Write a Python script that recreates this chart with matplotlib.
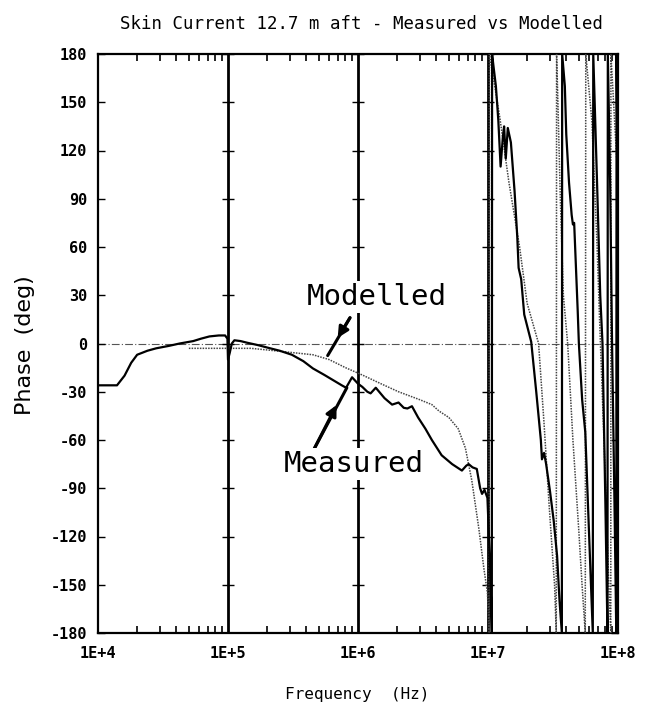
import matplotlib
matplotlib.use("Agg")
import matplotlib.pyplot as plt
import numpy as np

# ---------------- data ----------------
meas_freq = [1.0e4, 1.2e4, 1.4e4, 1.6e4, 1.8e4, 2.0e4, 2.4e4, 2.8e4, 3.5e4, 4.25e4,
             5.4e4, 6.2e4, 7.2e4, 8.5e4, 9.5e4, 9.9e4, 1.0e5, 1.03e5, 1.07e5, 1.12e5,
             1.25e5, 1.4e5, 1.7e5, 2.0e5, 2.5e5, 3.1e5, 3.8e5, 4.5e5, 5.5e5, 6.5e5,
             7.5e5, 8.1e5, 9.0e5, 1.0e6, 1.08e6, 1.18e6, 1.25e6, 1.37e6, 1.6e6, 1.83e6,
             2.05e6, 2.25e6, 2.4e6, 2.6e6, 2.9e6, 3.3e6, 3.7e6, 4.4e6, 5.3e6, 6.3e6,
             6.8e6, 7.1e6, 7.6e6, 8.2e6, 8.7e6, 9.0e6, 9.4e6, 9.9e6, 1.04e7, 1.07e7,
             1.075e7, 1.1e7, 1.15e7, 1.2e7, 1.25e7, 1.3e7, 1.33e7, 1.37e7, 1.42e7, 1.5e7,
             1.6e7, 1.68e7, 1.72e7, 1.8e7, 1.9e7, 2.15e7, 2.35e7, 2.55e7, 2.6e7, 2.7e7,
             2.8e7, 3.0e7, 3.2e7, 3.4e7, 3.55e7, 3.7e7,
             3.72e7, 3.9e7, 4.0e7, 4.2e7, 4.4e7, 4.5e7, 4.6e7, 4.9e7, 5.0e7, 5.3e7,
             5.6e7, 6.0e7, 6.4e7,
             6.45e7, 6.9e7, 7.3e7, 7.6e7, 8.0e7, 8.3e7,
             8.35e7, 8.7e7, 9.0e7, 9.4e7, 9.7e7,
             9.75e7, 1.0e8]
meas_phase = [-26, -26, -26, -20, -12, -7, -4.5, -3, -1.5, 0,
              1.5, 3, 4.4, 5, 5, 3, -10, -6, 0, 2,
              1.5, 0.5, -1, -2.5, -4.5, -7, -11, -15.5, -19.5, -23,
              -26, -27.5, -21, -25, -27, -30, -31, -27.5, -34, -38,
              -36.7, -40, -40.4, -39, -46, -53, -60, -69.5, -75, -79,
              -76, -75, -77, -78, -90, -93.5, -91, -96, -140, -180,
              180, 173, 160, 139, 110, 128, 135, 115, 134, 125,
              95, 66, 47, 40, 18, 1, -30, -60, -72, -68,
              -75, -92, -110, -132, -160, -180,
              180, 160, 130, 100, 80, 74, 75, 20, 0, -35,
              -55, -120, -180,
              180, 100, 30, 0, -100, -180,
              180, 100, 0, -100, -180,
              180, 60]

model_freq = [5.0e4, 1.0e5, 1.5e5, 2.0e5, 3.0e5, 4.5e5, 6.0e5, 8.0e5, 1.08e6, 1.5e6,
              2.05e6, 3.0e6, 3.7e6, 4.2e6, 5.0e6, 5.9e6, 6.7e6, 7.5e6, 8.5e6, 9.3e6,
              9.9e6, 1.02e7,
              1.025e7, 1.1e7, 1.23e7, 1.45e7, 1.75e7, 2.0e7, 2.45e7, 2.7e7, 2.95e7, 3.25e7,
              3.35e7,
              3.37e7, 3.45e7, 3.6e7, 3.8e7, 4.1e7, 4.5e7, 5.0e7, 5.3e7, 5.6e7,
              5.65e7, 6.3e7, 6.9e7, 7.3e7, 7.8e7, 8.5e7, 8.8e7,
              8.82e7, 1.0e8]
model_phase = [-3, -3, -3, -4, -5.5, -7, -10, -15, -19.6, -25,
               -30, -35, -38, -42, -46, -53, -65, -85, -115, -140,
               -155, -180,
               180, 165, 141, 100, 60, 25, 0, -50, -100, -150,
               -180,
               180, 150, 90, 30, 0, -60, -117, -151, -180,
               180, 138, 61, 3, -60, -150, -180,
               180, 100]

x_ticks = [1e4, 1e5, 1e6, 1e7, 1e8]
x_ticklabels = ["1E+4", "1E+5", "1E+6", "1E+7", "1E+8"]
y_ticks = [180, 150, 120, 90, 60, 30, 0, -30, -60, -90, -120, -150, -180]
y_ticklabels = [str(v) for v in y_ticks]
grid_decades = [1e5, 1e6, 1e7]

title = "Skin Current 12.7 m aft - Measured vs Modelled"
xlabel = "Frequency  (Hz)"
ylabel = "Phase  (deg)"

# ---------------- figure ----------------
mono = ["DejaVu Sans Mono"]
fig = plt.figure(figsize=(6.6, 7.1), dpi=100)
ax = fig.add_axes([98/660, 1-633/710, 520/660, 579/710])

ax.set_xscale("log")
ax.set_xlim(1e4, 1e8)
ax.set_ylim(-180, 180)

# zero reference line (dash-dot)
ax.axhline(0, color="#555555", lw=0.8, ls=(0, (7, 2, 1, 2)), zorder=1)

# bold decade grid lines with cross ticks
for g in grid_decades:
    ax.axvline(g, color="black", lw=2.0, zorder=2)
    ax.plot([g]*len(y_ticks), y_ticks, ls="none", marker="_", ms=9, mew=1.0,
            color="black", zorder=2)

# curves
ax.plot(model_freq, model_phase, color="#444444", lw=1.1, ls=(0, (1, 0.8)), zorder=3)
ax.plot(meas_freq, meas_phase, color="black", lw=1.6, zorder=4)

# ticks
ax.set_xticks(x_ticks)
ax.set_xticklabels(x_ticklabels)
ax.xaxis.set_minor_locator(matplotlib.ticker.LogLocator(base=10, subs=np.arange(2, 10)))
ax.xaxis.set_minor_formatter(matplotlib.ticker.NullFormatter())
ax.tick_params(axis="x", which="major", direction="in", length=0, top=True, pad=9)
ax.tick_params(axis="x", which="minor", direction="in", length=5, width=1.2, top=True)
ax.set_yticks(y_ticks)
ax.set_yticklabels(y_ticklabels)
ax.tick_params(axis="y", which="major", direction="in", length=5, width=1.0,
               right=True, pad=8)
for lab in ax.get_xticklabels() + ax.get_yticklabels():
    lab.set_family(mono)
    lab.set_fontweight("bold")
    lab.set_fontsize(11)

for s in ax.spines.values():
    s.set_linewidth(1.6)

# annotations
txt_kw = dict(family=mono, fontsize=21, ha="center", va="center", zorder=6,
              bbox=dict(facecolor="white", edgecolor="none", pad=1.5))
ax.text(1.4e6, 28.7, "Modelled", **txt_kw)
ax.text(9.3e5, -75, "Measured", **txt_kw)

# Modelled arrow (head mid-line)
ax.annotate("", xy=(5.7e5, -9), xytext=(8.9e5, 17.5),
            arrowprops=dict(arrowstyle="-", lw=2.2, color="black"), zorder=5)
ax.annotate("", xy=(6.8e5, 2), xytext=(8.9e5, 17.5),
            arrowprops=dict(arrowstyle="-|>", lw=2.2, color="black",
                            mutation_scale=16), zorder=5)
# Measured arrow
ax.annotate("", xy=(8.4e5, -26), xytext=(4.5e5, -67),
            arrowprops=dict(arrowstyle="-", lw=2.2, color="black"), zorder=5)
ax.annotate("", xy=(7.0e5, -36.7), xytext=(4.5e5, -67),
            arrowprops=dict(arrowstyle="-|>", lw=2.2, color="black",
                            mutation_scale=16), zorder=5)

# labels
fig.text(361/660, 1-24/710, title, family=mono, fontsize=12.5,
         ha="center", va="center")
fig.text(357/660, 1-695/710, xlabel, family=mono, fontsize=11.5,
         ha="center", va="center")
fig.text(25/660, 1-345/710, ylabel, family=["DejaVu Sans"], fontsize=16,
         rotation=90, ha="center", va="center")

fig.savefig("out.png", dpi=100, facecolor="white")
